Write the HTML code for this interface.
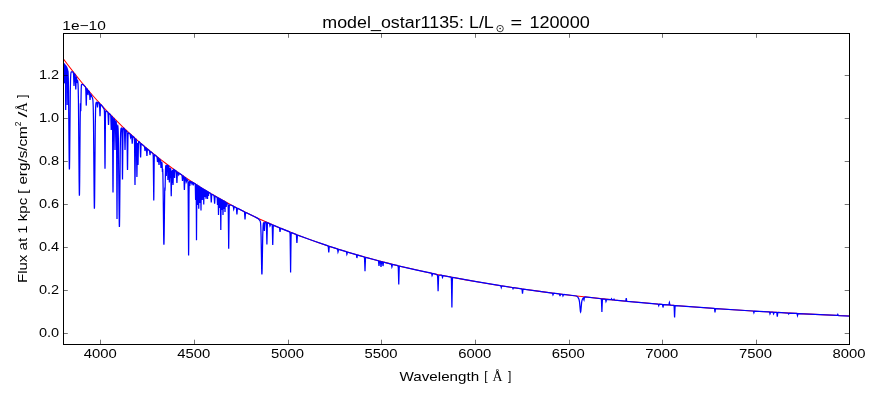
<!DOCTYPE html>
<html><head><meta charset="utf-8"><style>
html,body{margin:0;padding:0;background:#fff;width:880px;height:400px;overflow:hidden}
svg{display:block;transform:translateZ(0);will-change:transform}
text{font-family:"Liberation Sans",sans-serif;fill:#000}
.s{font-family:"Liberation Serif",serif}
</style></head><body>
<svg width="880" height="400" viewBox="0 0 880 400">
<rect x="0" y="0" width="880" height="400" fill="#fff"/>
<defs><clipPath id="ax"><rect x="63.5" y="33.5" width="786" height="311"/></clipPath></defs>
<g clip-path="url(#ax)" fill="none" stroke-linejoin="miter" stroke-linecap="butt">
<path d="M62.00 56.92 68.35 65.49 74.80 73.85 81.35 82.02 88.00 89.99 94.75 97.76 101.60 105.33 108.60 112.76 115.70 119.99 122.90 127.03 130.25 133.92 137.70 140.61 145.30 147.16 153.00 153.51 160.85 159.71 168.85 165.76 177.00 171.66 185.30 177.40 193.70 182.96 202.25 188.37 211.00 193.66 219.90 198.79 228.95 203.78 238.15 208.61 247.55 213.33 257.15 217.91 266.90 222.35 276.85 226.67 287.00 230.86 297.35 234.92 307.95 238.88 318.75 242.72 329.75 246.43 340.85 249.98 352.15 253.42 363.75 256.76 375.55 259.99 387.60 263.12 399.95 266.15 412.55 269.08 425.45 271.92 438.65 274.67 452.10 277.31 465.85 279.86 479.95 282.33 494.40 284.72 509.15 287.02 524.30 289.24 539.80 291.37 555.65 293.43 571.90 295.41 588.55 297.31 605.60 299.14 623.10 300.90 641.10 302.59 659.55 304.22 678.55 305.78 698.05 307.28 718.05 308.71 759.80 311.40 804.00 313.86 850.95 316.11" stroke="#ff0000" stroke-width="1.05"/>
<path d="M62.00 60.60 62.90 61.75 63.00 62.73 63.20 82.20 63.35 65.71 63.45 62.65 63.55 65.99 63.70 83.10 63.85 66.29 63.95 63.17 64.05 66.33 64.20 82.60 64.35 66.63 64.40 64.19 64.45 63.67 64.50 64.31 64.70 83.30 64.90 64.72 64.95 64.19 65.00 64.82 65.05 67.33 65.20 83.40 65.35 67.67 65.45 64.97 65.55 72.41 65.70 110.00 65.85 72.80 65.95 65.62 66.05 68.07 66.20 81.50 66.35 68.55 66.40 66.60 66.45 66.23 66.50 66.85 66.70 84.00 66.85 69.75 66.90 67.63 66.95 67.34 67.00 68.69 67.20 105.00 67.40 69.57 67.45 68.42 67.55 70.63 67.70 82.20 67.85 71.98 67.90 70.67 68.05 71.89 68.30 78.58 68.50 89.67 69.15 157.70 69.30 167.39 69.40 169.40 69.50 167.52 69.65 158.04 70.30 91.33 70.55 78.96 70.80 73.94 71.00 72.55 71.15 72.15 71.35 71.95 71.90 71.84 72.50 71.94 73.10 72.25 73.35 72.61 73.50 73.55 73.60 75.14 74.00 86.00 74.50 74.66 74.60 74.13 74.70 74.04 75.05 74.56 75.20 75.32 75.35 77.59 75.75 89.40 75.85 88.24 76.15 79.12 76.30 77.45 76.40 77.32 76.55 77.86 77.00 82.00 77.05 82.05 77.10 81.93 77.45 80.28 77.55 80.35 77.65 80.65 77.85 81.85 78.05 84.40 78.20 88.16 78.45 100.90 79.15 182.29 79.30 193.32 79.40 195.60 79.50 193.46 79.65 182.66 80.15 121.06 80.40 104.10 80.45 103.42 80.50 103.70 80.70 109.74 80.75 110.64 80.80 110.60 81.20 89.37 81.40 85.18 81.50 84.70 81.75 84.47 82.40 84.44 83.05 84.67 83.95 85.36 85.15 86.64 85.50 87.10 85.65 87.65 85.85 90.85 86.25 105.60 86.35 103.98 86.65 91.78 86.80 89.35 86.95 88.87 87.30 89.21 87.50 89.79 88.00 95.00 88.10 94.63 88.35 91.85 88.50 91.01 88.60 90.88 88.75 90.97 89.20 91.56 89.40 92.00 89.60 93.51 90.00 100.00 90.10 99.44 90.40 94.79 90.50 94.13 90.55 93.99 90.65 93.95 91.40 95.41 92.45 98.00 92.75 99.15 92.95 100.77 93.25 107.49 93.50 121.64 94.15 195.99 94.30 206.57 94.40 208.75 94.50 206.69 94.65 196.31 95.25 127.48 95.60 108.38 95.80 104.51 95.95 103.25 96.10 102.68 96.30 102.39 96.70 102.23 96.90 102.32 97.00 102.58 97.50 107.50 97.95 102.90 98.10 102.42 98.20 102.37 98.40 102.43 99.25 103.04 99.45 103.72 99.60 105.71 100.00 116.25 100.10 115.11 100.40 106.49 100.50 105.14 100.65 104.51 100.85 104.58 101.60 105.43 103.05 107.42 104.15 109.13 104.35 110.13 104.50 114.02 104.60 120.95 104.90 162.92 105.00 168.75 105.10 163.08 105.40 121.75 105.50 115.05 105.65 111.50 105.75 111.00 105.90 110.94 106.95 111.55 107.70 112.13 107.90 112.53 108.10 114.74 108.50 125.00 108.60 123.88 108.90 115.46 109.05 113.80 109.15 113.51 109.30 113.52 110.40 114.63 110.60 115.02 110.75 116.08 110.85 117.87 111.25 130.00 111.75 117.10 111.85 116.46 111.95 116.31 112.15 116.47 112.30 117.05 112.45 120.04 112.60 131.31 112.90 185.05 113.00 192.50 113.10 185.19 113.40 132.10 113.60 119.77 113.75 118.34 113.80 118.27 113.90 118.30 114.20 118.68 114.40 119.62 114.50 121.30 115.00 150.00 115.50 122.71 115.60 121.32 115.70 120.94 115.80 120.97 116.05 121.38 116.25 122.04 116.45 126.38 116.55 134.22 117.00 219.00 117.45 136.12 117.60 127.12 117.70 125.79 117.75 125.70 117.85 126.08 118.05 128.24 118.20 131.54 118.45 142.80 119.15 215.08 119.30 224.88 119.40 226.90 119.50 224.98 119.65 215.36 120.25 151.51 120.45 139.13 120.65 132.57 120.85 129.68 121.00 128.77 121.15 128.36 121.50 128.06 121.65 128.03 121.75 128.13 121.85 128.61 121.95 130.19 122.10 137.77 122.40 174.34 122.50 179.40 122.95 134.29 123.15 128.64 123.25 128.17 123.35 128.08 123.50 128.12 124.10 128.50 124.30 128.78 124.50 130.39 125.00 150.00 125.10 148.07 125.40 133.70 125.55 130.82 125.70 130.23 126.00 130.46 126.70 131.36 126.90 132.45 127.10 139.01 127.40 166.21 127.50 170.00 127.60 166.36 127.90 139.73 128.00 135.42 128.15 133.16 128.25 132.87 128.40 132.86 129.70 133.68 130.00 133.96 130.20 134.63 130.60 137.50 130.70 137.27 131.05 135.09 131.15 134.92 131.25 134.91 131.55 135.23 131.70 135.87 131.80 136.89 132.20 143.75 132.30 143.05 132.60 137.60 132.75 136.55 132.90 136.38 133.10 136.52 134.10 137.42 134.30 137.89 134.45 139.79 134.60 146.84 134.90 180.34 135.00 185.00 135.45 144.38 135.55 140.76 135.65 139.39 135.75 139.03 135.85 139.00 136.00 139.12 136.20 139.52 136.40 142.27 136.90 176.90 137.00 173.34 137.30 147.48 137.45 143.07 137.60 145.38 137.90 162.56 138.00 165.00 138.10 162.71 138.40 145.84 138.55 142.42 138.70 141.64 138.90 141.67 139.80 142.47 139.95 142.76 140.05 143.30 140.20 145.55 140.50 156.01 140.60 157.50 140.70 156.17 141.00 146.23 141.15 144.25 141.30 143.84 141.55 143.96 144.05 146.10 144.40 146.50 144.60 147.35 145.00 151.00 145.10 150.68 145.35 148.35 145.50 147.63 145.60 147.51 145.70 147.52 146.25 148.05 146.40 148.65 146.50 149.60 146.90 156.00 147.00 155.34 147.30 150.27 147.40 149.48 147.55 149.14 147.75 149.21 149.15 150.37 149.45 150.79 149.60 151.49 150.00 155.00 150.10 154.69 150.40 152.15 150.60 151.65 150.85 151.77 152.75 153.31 153.00 153.65 153.20 155.72 153.30 159.50 153.75 200.60 153.85 196.10 154.15 163.32 154.30 156.59 154.45 154.97 154.55 154.82 154.70 154.88 156.65 156.43 156.90 156.75 157.10 157.73 157.50 162.00 157.60 161.60 157.95 158.09 158.10 157.74 158.20 157.75 158.35 157.92 158.50 158.47 158.60 159.32 159.00 165.00 159.10 164.45 159.35 160.65 159.50 159.46 159.60 159.23 159.70 159.23 160.30 159.99 160.45 160.47 160.60 161.72 161.00 168.00 161.10 167.47 161.45 162.61 161.55 162.23 161.65 162.19 161.95 162.72 162.15 164.73 162.40 172.00 162.60 169.21 162.65 168.87 162.70 169.15 162.90 175.02 163.15 190.43 163.65 235.29 163.80 243.13 163.90 244.75 164.00 243.21 164.15 235.50 164.70 190.87 164.80 188.20 164.85 187.96 165.00 189.25 165.05 189.32 165.10 188.75 165.50 169.77 165.65 166.62 165.80 165.77 165.85 165.72 165.90 165.78 166.00 166.60 166.30 176.00 166.65 165.86 166.75 165.44 166.85 165.38 167.35 165.39 167.50 165.65 167.65 168.38 167.90 180.00 168.25 166.26 168.40 165.71 168.65 165.85 168.80 166.28 169.00 169.12 169.30 180.85 169.40 182.50 169.90 167.98 169.95 167.81 170.00 168.15 170.05 169.14 170.30 178.00 170.55 169.47 170.65 168.28 170.85 172.75 171.15 193.37 171.25 196.25 171.70 171.64 171.80 170.67 171.85 171.66 172.10 183.00 172.35 171.54 172.45 169.76 172.60 171.64 172.90 183.34 173.00 185.00 173.10 183.48 173.45 171.12 173.55 169.90 173.65 169.47 173.75 169.39 174.15 169.67 174.30 170.55 174.60 178.00 174.95 170.55 175.05 170.32 175.15 170.35 176.10 171.04 176.30 171.44 176.50 173.49 176.80 181.81 176.90 183.00 177.00 181.95 177.30 174.05 177.40 172.80 177.55 172.19 177.65 172.15 177.90 172.30 178.25 172.70 178.75 175.00 178.85 174.86 179.15 173.57 179.35 173.36 181.55 174.84 181.85 175.12 182.00 175.57 182.10 176.27 182.50 181.00 183.00 176.25 183.10 176.04 183.20 176.01 183.70 176.41 183.85 177.01 184.00 179.06 184.30 188.64 184.40 190.00 184.50 188.78 184.80 179.64 185.00 177.60 185.10 177.45 185.30 177.54 185.60 177.86 185.75 178.23 186.25 182.00 186.35 181.77 186.60 179.90 186.75 179.36 186.85 179.31 186.95 179.37 187.75 180.39 187.90 180.99 188.00 182.43 188.15 189.98 188.60 255.60 188.70 248.32 189.00 195.58 189.15 184.66 189.25 182.37 189.35 181.70 189.40 181.64 189.45 181.71 189.80 186.00 190.10 181.98 190.20 181.61 190.30 181.55 190.50 181.74 190.80 183.50 191.10 181.84 191.25 181.70 191.45 181.83 191.60 182.19 192.00 184.00 192.10 183.85 192.45 182.46 192.65 182.34 192.90 182.51 193.05 183.12 193.30 185.50 193.55 183.44 193.70 183.01 195.00 183.80 195.15 183.99 195.25 184.66 195.35 187.24 195.60 200.00 195.85 187.55 195.95 185.13 196.00 184.80 196.05 184.88 196.15 186.98 196.25 195.88 196.50 240.25 196.80 190.53 196.90 185.95 196.95 185.36 197.05 185.14 197.20 185.54 197.30 187.24 197.60 205.00 197.90 187.61 198.05 185.85 198.20 185.85 198.30 186.03 198.40 186.96 198.75 208.75 199.00 190.92 199.15 186.82 199.25 186.55 199.35 186.66 199.50 188.29 199.80 203.00 200.10 188.66 200.25 187.22 200.35 187.20 200.50 187.32 200.60 187.73 200.75 192.11 201.00 210.60 201.30 190.09 201.40 188.23 201.50 187.94 201.85 188.19 202.00 189.38 202.30 200.00 202.65 189.13 202.70 188.84 202.80 188.73 203.25 189.01 203.35 189.30 203.50 192.21 203.75 204.40 204.05 191.00 204.15 189.79 204.25 189.63 204.55 189.82 204.70 190.57 205.00 197.00 205.30 190.94 205.45 190.37 205.55 190.44 205.65 190.81 206.00 198.75 206.25 192.46 206.35 191.23 206.45 190.98 207.00 191.28 207.15 191.69 207.50 199.00 207.75 193.23 207.90 191.94 208.00 191.89 208.10 192.00 208.20 192.38 208.50 196.00 208.75 193.10 208.90 192.48 210.35 193.28 210.60 193.53 210.75 194.17 210.85 195.24 211.25 202.50 211.35 201.70 211.65 195.70 211.75 194.76 211.90 194.30 212.10 194.31 213.70 195.24 213.90 195.41 214.00 195.61 214.20 197.06 214.60 203.75 214.70 203.02 215.00 197.52 215.20 196.30 215.30 196.22 215.50 196.29 216.95 197.12 217.10 197.33 217.25 198.83 217.50 205.00 217.80 198.36 217.90 197.79 218.00 197.76 218.10 198.06 218.20 199.54 218.50 215.00 218.85 198.95 218.95 198.35 219.10 198.36 219.20 198.56 219.30 199.40 219.60 208.00 219.90 199.74 220.00 199.01 220.10 198.92 220.30 199.07 220.40 199.59 220.50 202.23 220.80 230.00 221.05 205.67 221.15 200.84 221.25 199.73 221.35 199.62 221.55 199.78 221.70 200.81 222.00 210.00 222.30 201.15 222.45 200.29 222.55 200.36 222.65 200.97 223.00 215.00 223.25 203.60 223.35 201.36 223.45 200.86 223.55 200.89 223.60 201.00 223.70 201.72 224.00 209.00 224.30 202.05 224.45 201.40 224.55 201.47 224.65 201.92 225.00 212.00 225.25 203.93 225.40 202.11 225.50 202.02 225.75 202.20 225.90 202.74 226.20 207.00 226.55 203.00 226.65 202.92 226.75 202.98 227.90 204.06 228.10 205.23 228.25 209.73 228.70 248.75 229.15 210.19 229.30 205.87 229.40 205.11 229.50 204.91 231.35 205.25 232.30 205.62 233.10 206.04 233.35 206.72 233.75 209.40 233.85 209.15 234.15 207.13 234.30 206.75 234.55 206.75 236.20 207.65 236.35 207.97 236.50 209.00 236.90 214.40 237.00 213.82 237.30 209.41 237.40 208.71 237.55 208.39 237.85 208.46 244.25 211.72 244.45 212.12 244.55 212.75 245.00 219.40 245.10 218.73 245.45 213.20 245.55 212.66 245.65 212.49 245.75 212.46 256.90 217.86 258.30 218.82 259.50 220.13 260.10 221.02 260.40 221.92 260.60 223.38 260.80 226.47 261.10 236.59 261.65 268.25 261.80 273.35 261.90 274.40 262.00 273.40 262.15 268.38 262.75 235.03 263.10 225.69 263.40 223.26 263.65 222.72 263.75 222.70 263.85 222.89 264.00 224.10 264.30 230.18 264.40 231.00 264.90 222.79 265.10 222.16 265.60 222.10 266.05 222.18 266.20 222.34 266.40 223.91 266.90 244.40 267.35 225.29 267.45 223.59 267.55 222.94 267.65 222.77 267.85 222.79 269.10 223.33 269.45 223.58 269.60 223.98 270.00 226.00 270.10 225.82 270.40 224.33 270.55 224.06 270.80 224.07 271.85 224.53 272.00 224.65 272.10 224.89 272.25 226.22 272.35 228.60 272.65 242.99 272.75 245.00 273.20 227.59 273.30 226.03 273.40 225.45 273.50 225.30 273.80 225.37 279.35 227.77 279.50 228.08 279.60 228.57 280.00 231.90 280.10 231.56 280.40 228.91 280.55 228.39 280.70 228.31 289.60 231.90 289.85 232.12 290.05 233.85 290.15 237.09 290.60 272.50 291.05 237.43 291.20 233.51 291.30 232.83 291.40 232.67 291.50 232.66 296.00 234.41 296.25 234.61 296.40 235.18 296.50 236.18 296.80 242.15 296.90 243.00 297.00 242.23 297.35 235.94 297.50 235.18 297.70 235.07 312.45 240.50 328.00 245.87 328.20 246.20 328.30 246.74 328.75 252.50 328.85 251.90 329.20 247.03 329.35 246.45 329.55 246.37 337.30 248.88 337.45 249.04 337.60 249.52 338.00 252.00 338.10 251.74 338.45 249.59 338.55 249.39 338.75 249.33 346.20 251.65 346.35 251.79 346.50 252.21 346.90 254.40 347.00 254.18 347.30 252.45 347.45 252.12 347.60 252.07 356.15 254.60 356.35 254.79 356.45 255.07 356.90 258.00 357.00 257.71 357.30 255.53 357.40 255.19 357.55 255.04 364.20 256.91 364.40 257.29 364.55 258.74 365.00 271.25 365.45 258.98 365.60 257.62 365.70 257.40 365.80 257.36 378.30 260.75 378.45 260.98 378.60 261.78 378.90 265.48 379.00 266.00 379.50 261.42 379.70 261.12 380.30 261.28 380.45 261.53 380.60 262.39 380.90 266.43 381.00 267.00 381.10 266.48 381.45 262.23 381.55 261.81 381.75 261.64 382.30 261.79 382.50 262.12 383.00 266.00 383.10 265.63 383.40 262.82 383.55 262.26 383.70 262.15 391.20 264.04 391.35 264.18 391.50 264.63 391.90 267.00 392.00 266.75 392.30 264.83 392.40 264.53 392.55 264.39 397.90 265.67 398.05 265.81 398.15 266.17 398.30 268.05 398.75 284.40 399.20 268.26 399.35 266.46 399.45 266.15 399.55 266.08 415.80 269.81 431.35 273.17 431.55 273.31 431.65 273.51 432.10 275.60 432.20 275.40 432.50 273.84 432.60 273.60 432.75 273.49 435.45 274.09 436.20 274.41 437.20 275.01 437.40 275.22 437.50 275.56 437.65 277.20 438.10 291.25 438.55 277.38 438.65 276.11 438.85 275.44 439.60 275.24 440.30 275.15 441.10 275.20 441.85 275.34 442.10 275.76 442.50 277.50 442.60 277.32 442.90 275.91 443.05 275.64 443.20 275.59 451.05 277.13 451.20 277.33 451.30 277.89 451.45 280.92 451.90 307.50 452.35 281.08 452.50 278.12 452.60 277.60 452.80 277.45 476.30 281.71 500.45 285.68 500.65 285.75 500.80 285.94 501.25 287.50 501.70 286.08 501.80 285.96 502.00 285.93 512.30 287.50 512.60 287.76 513.00 288.75 513.40 287.87 513.55 287.73 513.70 287.71 521.70 288.87 521.90 289.01 522.05 289.51 522.50 293.75 522.95 289.63 523.10 289.18 523.30 289.10 552.25 293.01 552.45 293.11 552.55 293.27 553.00 295.00 553.10 294.83 553.40 293.51 553.50 293.30 553.65 293.20 559.20 293.88 559.40 293.95 559.55 294.17 560.00 296.00 560.45 294.28 560.55 294.13 560.75 294.07 562.20 294.24 562.45 294.35 562.60 294.61 563.00 296.00 563.10 295.85 563.40 294.71 563.55 294.48 563.70 294.44 574.80 295.75 576.25 296.00 577.15 296.41 577.85 297.12 578.55 298.34 579.10 299.79 579.55 302.19 580.30 310.38 580.45 311.50 580.60 311.90 580.75 311.52 580.90 310.42 581.60 302.78 581.85 301.13 582.10 300.10 582.70 298.68 583.10 298.04 583.40 297.74 583.50 297.78 583.60 298.01 583.90 299.78 584.00 300.00 584.50 297.25 584.70 297.03 585.20 296.99 601.15 298.71 601.35 299.27 601.45 300.33 601.90 311.90 602.35 300.42 602.50 299.14 602.70 298.86 605.10 299.09 605.40 299.18 605.60 299.59 606.00 301.50 606.10 301.28 606.40 299.67 606.60 299.30 606.85 299.27 610.85 299.67 611.10 299.52 611.50 298.80 611.90 299.61 612.20 299.81 613.45 299.91 613.60 299.81 614.00 299.20 614.40 299.89 614.70 300.06 625.50 301.12 625.70 301.01 625.80 300.76 626.25 298.00 626.70 300.85 626.80 301.12 627.00 301.27 658.00 304.09 658.30 304.29 658.75 305.60 659.15 304.46 659.35 304.24 662.20 304.45 662.40 304.53 662.55 304.84 663.00 307.50 663.10 307.21 663.40 305.12 663.60 304.63 663.85 304.58 668.75 304.96 668.90 304.81 669.00 304.52 669.30 302.74 669.40 302.50 669.80 304.59 670.00 305.03 670.25 305.11 673.75 305.40 673.90 305.49 674.00 305.71 674.20 307.74 674.50 316.31 674.60 317.50 675.05 306.99 675.20 305.80 675.30 305.60 675.45 305.54 714.20 308.45 714.40 308.56 714.55 308.96 715.00 312.50 715.45 309.02 715.60 308.64 715.80 308.56 753.10 311.00 753.30 311.05 753.45 311.22 753.90 312.70 754.35 311.28 754.45 311.15 754.65 311.10 769.20 311.96 769.40 312.02 769.55 312.22 770.00 314.00 770.10 313.81 770.40 312.41 770.50 312.18 770.65 312.07 773.00 312.22 773.20 312.53 773.60 314.00 773.70 313.83 774.00 312.58 774.20 312.29 776.45 312.38 776.70 312.49 776.85 312.94 777.30 316.80 777.75 312.99 777.90 312.56 778.15 312.47 788.00 313.02 788.30 313.21 788.70 314.00 789.10 313.26 789.40 313.10 796.75 313.49 796.95 313.58 797.05 313.74 797.50 315.50 797.95 313.79 798.10 313.60 798.30 313.57 837.00 315.48 837.35 315.37 837.80 314.50 838.20 315.34 838.50 315.54 850.95 316.11" stroke="#0000ff" stroke-width="1.25"/>
</g>
<rect x="63.5" y="33.5" width="786" height="311" fill="none" stroke="#000" stroke-width="1"/>
<g stroke="#000" stroke-width="0.55">
<line x1="100.5" y1="33.5" x2="100.5" y2="37.8"/><line x1="100.5" y1="344" x2="100.5" y2="339.7"/><line x1="194.5" y1="33.5" x2="194.5" y2="37.8"/><line x1="194.5" y1="344" x2="194.5" y2="339.7"/><line x1="288.5" y1="33.5" x2="288.5" y2="37.8"/><line x1="288.5" y1="344" x2="288.5" y2="339.7"/><line x1="381.5" y1="33.5" x2="381.5" y2="37.8"/><line x1="381.5" y1="344" x2="381.5" y2="339.7"/><line x1="475.5" y1="33.5" x2="475.5" y2="37.8"/><line x1="475.5" y1="344" x2="475.5" y2="339.7"/><line x1="569.5" y1="33.5" x2="569.5" y2="37.8"/><line x1="569.5" y1="344" x2="569.5" y2="339.7"/><line x1="662.5" y1="33.5" x2="662.5" y2="37.8"/><line x1="662.5" y1="344" x2="662.5" y2="339.7"/><line x1="756.5" y1="33.5" x2="756.5" y2="37.8"/><line x1="756.5" y1="344" x2="756.5" y2="339.7"/><line x1="63.5" y1="333.5" x2="67.8" y2="333.5"/><line x1="849" y1="333.5" x2="844.7" y2="333.5"/><line x1="63.5" y1="290.5" x2="67.8" y2="290.5"/><line x1="849" y1="290.5" x2="844.7" y2="290.5"/><line x1="63.5" y1="247.5" x2="67.8" y2="247.5"/><line x1="849" y1="247.5" x2="844.7" y2="247.5"/><line x1="63.5" y1="204.5" x2="67.8" y2="204.5"/><line x1="849" y1="204.5" x2="844.7" y2="204.5"/><line x1="63.5" y1="161.5" x2="67.8" y2="161.5"/><line x1="849" y1="161.5" x2="844.7" y2="161.5"/><line x1="63.5" y1="118.5" x2="67.8" y2="118.5"/><line x1="849" y1="118.5" x2="844.7" y2="118.5"/><line x1="63.5" y1="75.5" x2="67.8" y2="75.5"/><line x1="849" y1="75.5" x2="844.7" y2="75.5"/>
</g>
<g font-size="12.6">
<text x="100.25" y="357.9" text-anchor="middle" textLength="33" lengthAdjust="spacingAndGlyphs">4000</text><text x="193.85" y="357.9" text-anchor="middle" textLength="33" lengthAdjust="spacingAndGlyphs">4500</text><text x="287.45" y="357.9" text-anchor="middle" textLength="33" lengthAdjust="spacingAndGlyphs">5000</text><text x="381.05" y="357.9" text-anchor="middle" textLength="33" lengthAdjust="spacingAndGlyphs">5500</text><text x="474.65" y="357.9" text-anchor="middle" textLength="33" lengthAdjust="spacingAndGlyphs">6000</text><text x="568.25" y="357.9" text-anchor="middle" textLength="33" lengthAdjust="spacingAndGlyphs">6500</text><text x="661.85" y="357.9" text-anchor="middle" textLength="33" lengthAdjust="spacingAndGlyphs">7000</text><text x="755.45" y="357.9" text-anchor="middle" textLength="33" lengthAdjust="spacingAndGlyphs">7500</text><text x="849.05" y="357.9" text-anchor="middle" textLength="33" lengthAdjust="spacingAndGlyphs">8000</text>
<text x="59.2" y="336.7" text-anchor="end" textLength="20.2" lengthAdjust="spacingAndGlyphs">0.0</text><text x="59.2" y="293.7" text-anchor="end" textLength="20.2" lengthAdjust="spacingAndGlyphs">0.2</text><text x="59.2" y="250.7" text-anchor="end" textLength="20.2" lengthAdjust="spacingAndGlyphs">0.4</text><text x="59.2" y="207.7" text-anchor="end" textLength="20.2" lengthAdjust="spacingAndGlyphs">0.6</text><text x="59.2" y="164.7" text-anchor="end" textLength="20.2" lengthAdjust="spacingAndGlyphs">0.8</text><text x="59.2" y="121.7" text-anchor="end" textLength="20.2" lengthAdjust="spacingAndGlyphs">1.0</text><text x="59.2" y="78.7" text-anchor="end" textLength="20.2" lengthAdjust="spacingAndGlyphs">1.2</text>
<text x="62.3" y="30.1" textLength="43.5" lengthAdjust="spacingAndGlyphs">1e&#8722;10</text>
</g>
<g font-size="12.4">
<text x="399.6" y="380.9" textLength="79.5" lengthAdjust="spacingAndGlyphs">Wavelength</text>
<text x="484.2" y="379.9" font-size="12">[</text>
<text class="s" x="492.4" y="380.8" font-size="13.8">&#197;</text>
<text x="508" y="379.9" font-size="12">]</text>
</g>
<g font-size="12.6">
<text transform="translate(27.3,283) rotate(-90)" textLength="93.5" lengthAdjust="spacingAndGlyphs">Flux at 1 kpc [</text>
<text transform="translate(27.3,184.6) rotate(-90)" textLength="58.4" lengthAdjust="spacingAndGlyphs">erg/s/cm</text>
<text transform="translate(21.4,126.2) rotate(-90)" font-size="8.6">2</text>
<text transform="translate(27.3,117.6) rotate(-90)" textLength="6" lengthAdjust="spacingAndGlyphs">/</text>
<text class="s" transform="translate(27.4,112.2) rotate(-90)" font-size="13.8">&#197;</text>
<text transform="translate(26.0,97.9) rotate(-90)" font-size="12.2">]</text>
</g>
<text x="322.3" y="28.2" font-size="16" textLength="171.5" lengthAdjust="spacingAndGlyphs">model_ostar1135: L/L</text>
<circle cx="500.1" cy="28.6" r="3.2" fill="none" stroke="#000" stroke-width="0.75"/>
<circle cx="500.1" cy="28.6" r="0.75" fill="#000"/>
<text x="510.6" y="28.2" font-size="16" textLength="11.6" lengthAdjust="spacingAndGlyphs">=</text>
<text x="529.4" y="28.2" font-size="16" textLength="60.4" lengthAdjust="spacingAndGlyphs">120000</text>
</svg>
</body></html>
